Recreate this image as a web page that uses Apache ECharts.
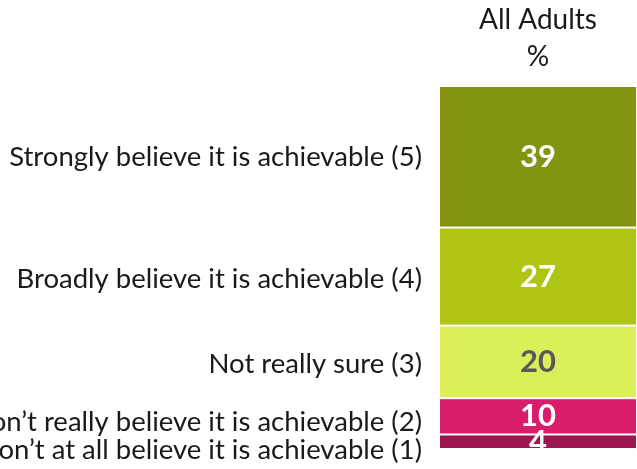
<!DOCTYPE html>
<html style="height: 100%">
<head>
    <meta charset="utf-8">
    <script src="https://cdn.jsdelivr.net/npm/echarts@6/dist/echarts.min.js"></script>
    <title>All Adults</title>
</head>
<body style="height: 100%; margin: 0; background: #fff">
<div id="container" style="width: 637px; height: 469px"></div>
<script type="text/javascript">

    // bottom to top
    let groups = ['All Adults'];
    let unit = '%';
    let answers = [
        'Don\u2019t at all believe it is achievable (1)',
        'Don\u2019t really believe it is achievable (2)',
        'Not really sure (3)',
        'Broadly believe it is achievable (4)',
        'Strongly believe it is achievable (5)'
    ];
    let values = [4, 10, 20, 27, 39];
    let colors = ['#9e1650', '#d81e6a', '#dcee5a', '#b0c414', '#849412'];
    let valueColors = ['#fff', '#fff', '#595959', '#fff', '#fff'];
    let nameShift = [8, 6, 2, 3, 0];

    let font = 'Lato, "Open Sans", sans-serif';
    let series = [];
    answers.forEach(function (a, i) {
        series.push({
            name: a,
            type: 'bar',
            stack: 'bars',
            barWidth: '100%',
            data: [values[i]],
            itemStyle: {color: colors[i], borderColor: '#fff', borderWidth: 1},
            label: {
                show: true,
                position: 'inside',
                color: valueColors[i],
                fontFamily: font,
                fontWeight: 'bold',
                fontSize: 31
            },
            silent: true
        });
    });
    // transparent copy only to carry the row names on the left
    answers.forEach(function (a, i) {
        series.push({
            name: a + ' ',
            type: 'bar',
            stack: 'names',
            barWidth: '100%',
            barGap: '-100%',
            data: [values[i]],
            itemStyle: {color: 'rgba(0,0,0,0)'},
            label: {
                show: true,
                position: 'left',
                distance: 17,
                offset: [0, nameShift[i]],
                formatter: a,
                color: '#1a1a1a',
                fontFamily: font,
                fontSize: 27.5
            },
            silent: true
        });
    });

    let chart = echarts.init(document.getElementById('container'));
    chart.setOption({
        animation: false,
        title: {
            text: groups[0] + '\n' + unit,
            left: 538,
            top: 1,
            padding: 0,
            textAlign: 'center',
            textStyle: {
                color: '#1a1a1a',
                fontFamily: font,
                fontWeight: 'normal',
                fontSize: 28,
                lineHeight: 37
            }
        },
        grid: {left: 439, right: 0, top: 86, bottom: 20, containLabel: false, outerBoundsMode: 'none'},
        xAxis: {
            type: 'category',
            data: groups,
            show: false
        },
        yAxis: {type: 'value', min: 0, max: 100, show: false},
        series: series
    });

</script>
</body>
</html>
